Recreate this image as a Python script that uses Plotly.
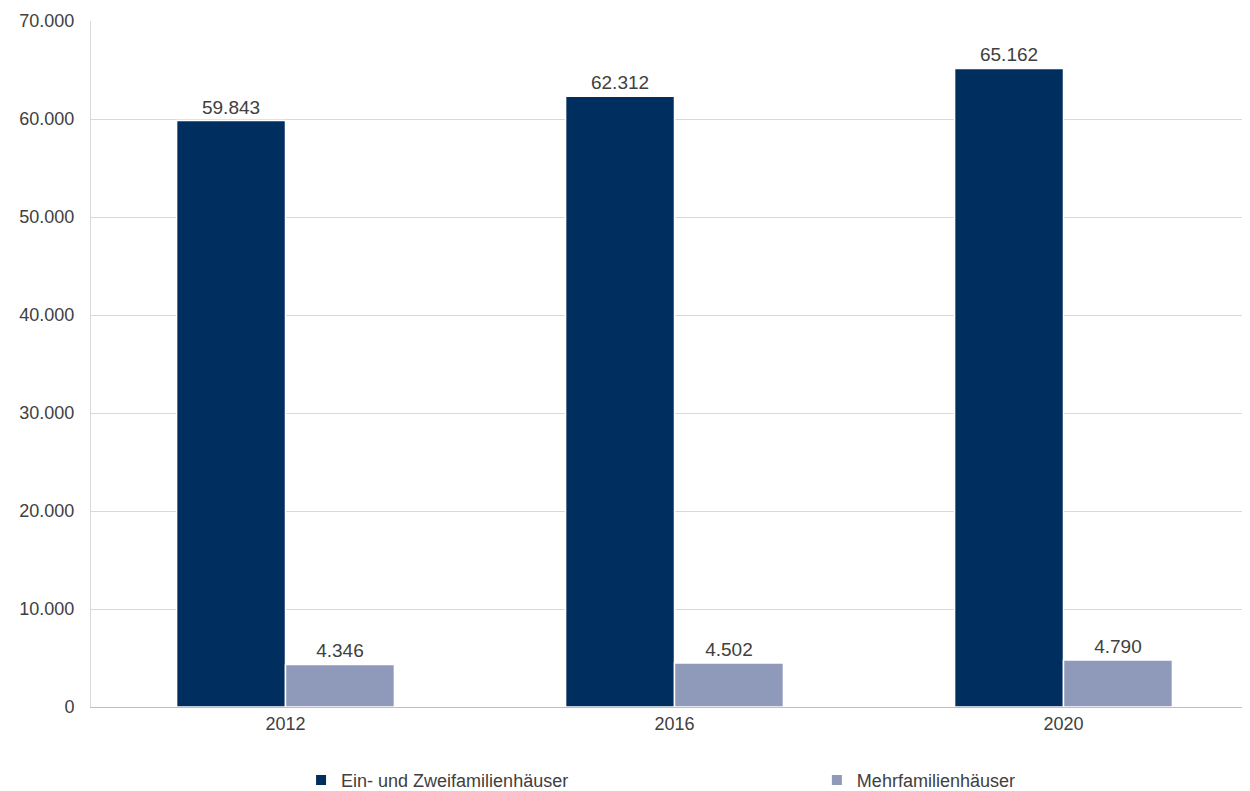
import plotly.graph_objects as go

years = ["2012", "2016", "2020"]
ein_zwei = [59843, 62312, 65162]
mehr = [4346, 4502, 4790]

def fmt(v):
    return f"{v:,}".replace(",", ".")

fig = go.Figure()
fig.add_bar(x=years, y=ein_zwei, name="Ein- und Zweifamilienhäuser", legend="legend",
            marker=dict(color="#002f5f", line=dict(color="white", width=1.5)),
            text=[fmt(v) for v in ein_zwei], textposition="outside",
            textfont=dict(size=19, color="#404040"), cliponaxis=False)
fig.add_bar(x=years, y=mehr, name="Mehrfamilienhäuser", legend="legend2",
            marker=dict(color="#8f9aba", line=dict(color="white", width=1.5)),
            text=[fmt(v) for v in mehr], textposition="outside",
            textfont=dict(size=19, color="#404040"), cliponaxis=False)

leg = dict(orientation="h", y=-0.08, yanchor="top", xanchor="left",
           font=dict(size=18, color="#404040"), itemsizing="constant")
fig.update_layout(
    width=1250, height=791, plot_bgcolor="white", paper_bgcolor="white",
    font=dict(family="Liberation Sans, Arial", size=18, color="#595959"),
    separators=",.", showlegend=True,
    margin=dict(l=83, r=0, t=13, b=92),
    barmode="group", bargap=0.44, bargroupgap=0.0,
    legend=dict(leg, x=0.18),
    legend2=dict(leg, x=0.622),
    xaxis=dict(showline=True, linecolor="#bfbfbf", linewidth=1, ticks="",
               tickfont=dict(size=18, color="#404040")),
    yaxis=dict(range=[0, 70000], dtick=10000, tickformat=",d", showgrid=True,
               gridcolor="#d9d9d9", showline=True, linecolor="#d9d9d9",
               zeroline=False, ticks="", ticklabelstandoff=12,
               tickfont=dict(size=18, color="#404040")),
)
fig.write_html("out.html")
